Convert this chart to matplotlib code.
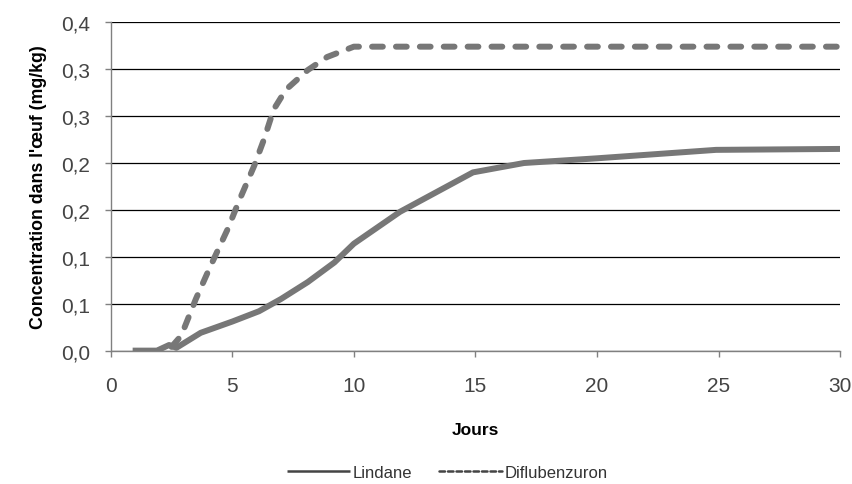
import matplotlib
matplotlib.use("Agg")
import matplotlib.pyplot as plt

plt.rcParams['font.family'] = ['Liberation Sans', 'DejaVu Sans']

# Lindane
lindane_days = [0.9, 1.9, 2.4, 2.7, 3.7, 5.0, 6.1, 7.0, 8.1, 9.2, 10.0, 11.9, 14.9, 17.0, 20.0, 24.9, 30.0]
lindane_conc = [0.0, 0.0, 0.006, 0.003, 0.019, 0.031, 0.042, 0.055, 0.073, 0.094, 0.114, 0.148, 0.190, 0.200, 0.205, 0.214, 0.215]

# Diflubenzuron
diflu_days = [2.5, 2.9, 3.5, 4.1, 4.8, 5.3, 5.9, 6.3, 6.7, 7.2, 8.1, 8.9, 10.0, 30.0]
diflu_conc = [0.004, 0.016, 0.055, 0.090, 0.129, 0.161, 0.197, 0.225, 0.257, 0.278, 0.299, 0.313, 0.324, 0.324]

y_ticks = [0.0, 0.05, 0.10, 0.15, 0.20, 0.25, 0.30, 0.35]
y_labels = ['0,0', '0,1', '0,1', '0,2', '0,2', '0,3', '0,3', '0,4']
x_ticks = [0, 5, 10, 15, 20, 25, 30]

fig = plt.figure(figsize=(8.52, 4.85), dpi=100)
ax = fig.add_axes([0.130, 0.275, 0.856, 0.677])

line_color = '#777777'
ax.plot(lindane_days, lindane_conc, color=line_color, lw=4.3, label='Lindane',
        solid_capstyle='butt')
ax.plot(diflu_days, diflu_conc, color=line_color, lw=4.3, label='Diflubenzuron',
        linestyle=(0, (1.8, 2.2)), dash_capstyle='round')

ax.set_xlim(0, 30)
ax.set_ylim(0, 0.35)
ax.set_xticks(x_ticks)
ax.set_yticks(y_ticks)
ax.set_yticklabels(y_labels)

ax.grid(axis='y', color='black', lw=0.9)
ax.set_axisbelow(True)
for s in ['top', 'right']:
    ax.spines[s].set_visible(False)
for s in ['left', 'bottom']:
    ax.spines[s].set_color('#808080')
    ax.spines[s].set_linewidth(1.0)
ax.tick_params(axis='both', colors='#808080', length=4, width=1, labelcolor='#444444',
               labelsize=15)
ax.tick_params(axis='y', pad=11)
ax.tick_params(axis='x', pad=14)

ax.set_xlabel('Jours', fontsize=12.5, fontweight='bold', labelpad=20)
ax.set_ylabel("Concentration dans l'œuf (mg/kg)", fontsize=12.8, fontweight='bold', labelpad=10)

leg = fig.legend(loc='lower center', bbox_to_anchor=(0.525, -0.022), ncol=2, frameon=False,
                 fontsize=12, handlelength=3.8, handletextpad=0.15, columnspacing=1.6,
                 labelcolor='#333333')
for h in leg.get_lines():
    h.set_linewidth(1.8)
    h.set_color('#444444')
leg.get_lines()[1].set_linestyle((0, (2.2, 1.2)))

fig.savefig('out.png', dpi=100)
